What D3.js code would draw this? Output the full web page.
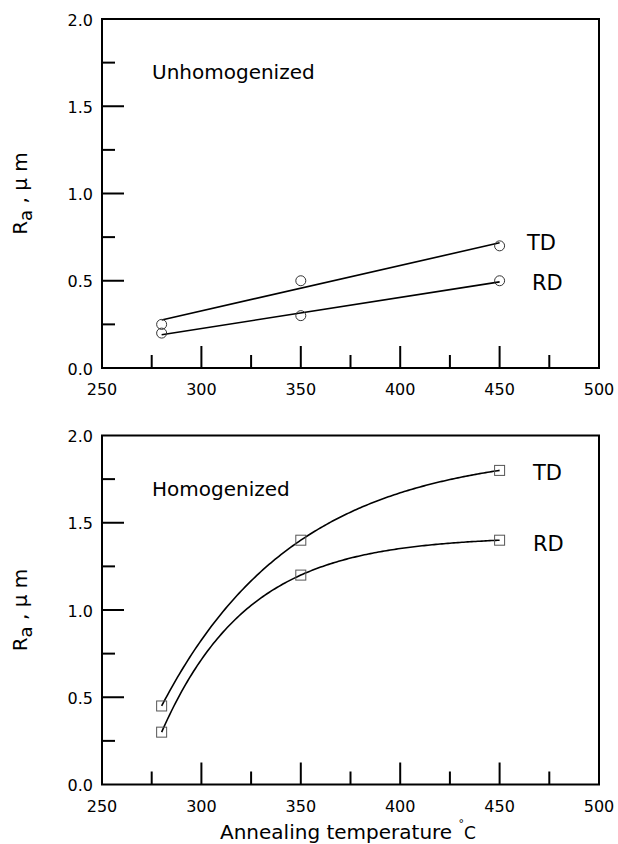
<!DOCTYPE html>
<html>
<head>
<meta charset="utf-8">
<script src="https://cdn.jsdelivr.net/npm/d3@7"></script>
<style>
body { margin: 0; background: #fff; }
text { font-family: "DejaVu Sans", Verdana, sans-serif; fill: #000; }
</style>
</head>
<body>
<script>
// data
var temps = [280, 350, 450]
var unhomTD = [0.25, 0.5, 0.7]
var unhomRD = [0.2, 0.3, 0.5]
var homTD = [0.45, 1.4, 1.8]
var homRD = [0.3, 1.2, 1.4]

var xMajor = [300, 350, 400, 450]
var xMinor = [275, 325, 375, 425, 475]
var xLabels = [250, 300, 350, 400, 450, 500]
var yMajor = [0.5, 1.0, 1.5]
var yMinor = [0.25, 0.75, 1.25, 1.75]
var yLabels = [0, 0.5, 1.0, 1.5, 2.0]

var width = 618, height = 844
var left = 102, right = 599, panelH = 349

var svg = d3.select("body").append("svg")
    .attr("width", width)
    .attr("height", height)

var x = d3.scaleLinear().domain([250, 500]).range([left, right])

/* least squares line, used for the unhomogenized panel */
function linFit(xs, ys) {
    var mx = d3.mean(xs), my = d3.mean(ys)
    var sxy = d3.sum(xs, function(d, i) { return (d - mx) * (ys[i] - my) })
    var sxx = d3.sum(xs, function(d) { return (d - mx) * (d - mx) })
    var b = sxy / sxx
    return function(t) { return my + b * (t - mx) }
}

/* rise-to-maximum curve y = A - B*exp(-k(x-x0)) through the three points */
function expFit(xs, ys) {
    var a = xs[1] - xs[0], b = xs[2] - xs[0]
    var r = (ys[2] - ys[1]) / (ys[1] - ys[0])
    function g(k) {
        return (Math.exp(-a * k) - Math.exp(-b * k)) / (1 - Math.exp(-a * k)) - r
    }
    var lo = 1e-5, hi = 1
    for (var i = 0; i < 80; i++) {
        var mid = (lo + hi) / 2
        if (g(mid) > 0) lo = mid; else hi = mid
    }
    var k = (lo + hi) / 2
    var B = (ys[1] - ys[0]) / (1 - Math.exp(-a * k))
    var A = ys[0] + B
    return function(t) { return A - B * Math.exp(-k * (t - xs[0])) }
}

function drawPanel(top, title, series, marker, smooth) {
    var y = d3.scaleLinear().domain([0, 2]).range([top + panelH, top])
    var g = svg.append("g")

    // frame
    g.append("rect")
        .attr("x", left).attr("y", top)
        .attr("width", right - left).attr("height", panelH)
        .attr("fill", "none").attr("stroke", "#000").attr("stroke-width", 2)

    // ticks inside
    g.selectAll(".xmaj").data(xMajor).enter().append("line")
        .attr("x1", x).attr("x2", x)
        .attr("y1", top + panelH).attr("y2", top + panelH - 22)
        .attr("stroke", "#000").attr("stroke-width", 2)
    g.selectAll(".xmin").data(xMinor).enter().append("line")
        .attr("x1", x).attr("x2", x)
        .attr("y1", top + panelH).attr("y2", top + panelH - 13)
        .attr("stroke", "#000").attr("stroke-width", 2)
    g.selectAll(".ymaj").data(yMajor).enter().append("line")
        .attr("x1", left).attr("x2", left + 22)
        .attr("y1", y).attr("y2", y)
        .attr("stroke", "#000").attr("stroke-width", 2)
    g.selectAll(".ymin").data(yMinor).enter().append("line")
        .attr("x1", left).attr("x2", left + 13)
        .attr("y1", y).attr("y2", y)
        .attr("stroke", "#000").attr("stroke-width", 2)

    // tick labels
    g.selectAll(".xl").data(xLabels).enter().append("text")
        .attr("x", x).attr("y", top + panelH + 27)
        .attr("text-anchor", "middle").attr("font-size", "16px")
        .text(function(d) { return d })
    g.selectAll(".yl").data(yLabels).enter().append("text")
        .attr("x", left - 9).attr("y", function(d) { return y(d) + 6.5 })
        .attr("text-anchor", "end").attr("font-size", "16px")
        .text(function(d) { return d3.format(".1f")(d) })

    // y axis title
    var yt = g.append("text")
        .attr("transform", "translate(27," + (top + panelH / 2) + ") rotate(-90)")
        .attr("text-anchor", "middle").attr("font-size", "20px")
    yt.append("tspan").text("R")
    yt.append("tspan").attr("font-size", "18px").attr("dy", 5).text("a")
    yt.append("tspan").attr("dy", -5).text(" , \u03bc m")

    g.append("text")
        .attr("x", 152).attr("y", top + 60)
        .attr("font-size", "20px")
        .text(title)

    series.forEach(function(s) {
        var pts = temps.map(function(t, i) { return [t, s.values[i]] })
        var t0 = d3.min(temps), t1 = d3.max(temps)
        if (smooth) {
            var f = expFit(temps, s.values)
            var line = d3.line()
                .x(function(d) { return x(d) })
                .y(function(d) { return y(f(d)) })
            g.append("path").datum(d3.range(t0, t1 + 0.5, 1))
                .attr("d", line)
                .attr("fill", "none").attr("stroke", "#000").attr("stroke-width", 1.6)
        } else {
            var f = linFit(temps, s.values)
            g.append("line")
                .attr("x1", x(t0)).attr("y1", y(f(t0)))
                .attr("x2", x(t1)).attr("y2", y(f(t1)))
                .attr("stroke", "#000").attr("stroke-width", 1.6)
        }

        if (marker == "circle") {
            g.selectAll(null).data(pts).enter().append("circle")
                .attr("cx", function(d) { return x(d[0]) })
                .attr("cy", function(d) { return y(d[1]) })
                .attr("r", 5)
                .attr("fill", "none").attr("stroke", "#333").attr("stroke-width", 1)
        } else {
            g.selectAll(null).data(pts).enter().append("rect")
                .attr("x", function(d) { return x(d[0]) - 5 })
                .attr("y", function(d) { return y(d[1]) - 5 })
                .attr("width", 10).attr("height", 10)
                .attr("fill", "none").attr("stroke", "#555").attr("stroke-width", 1)
        }

        g.append("text")
            .attr("x", s.lx).attr("y", y(s.values[2]) + s.dy)
            .attr("font-size", "21px")
            .text(s.name)
    })
}

drawPanel(19, "Unhomogenized", [
    {name: "TD", values: unhomTD, lx: 527, dy: 4},
    {name: "RD", values: unhomRD, lx: 532, dy: 9}
], "circle", false)

drawPanel(435.5, "Homogenized", [
    {name: "TD", values: homTD, lx: 533, dy: 10},
    {name: "RD", values: homRD, lx: 533, dy: 11}
], "square", true)

// x axis title
var xt = svg.append("text")
    .attr("x", 220).attr("y", 839)
    .attr("font-size", "20px")
xt.append("tspan").text("Annealing temperature ")
xt.append("tspan").attr("font-size", "11px").attr("dy", -12).text("\u00b0")
xt.append("tspan").attr("font-size", "17px").attr("dy", 12).text("C")
</script>
</body>
</html>
